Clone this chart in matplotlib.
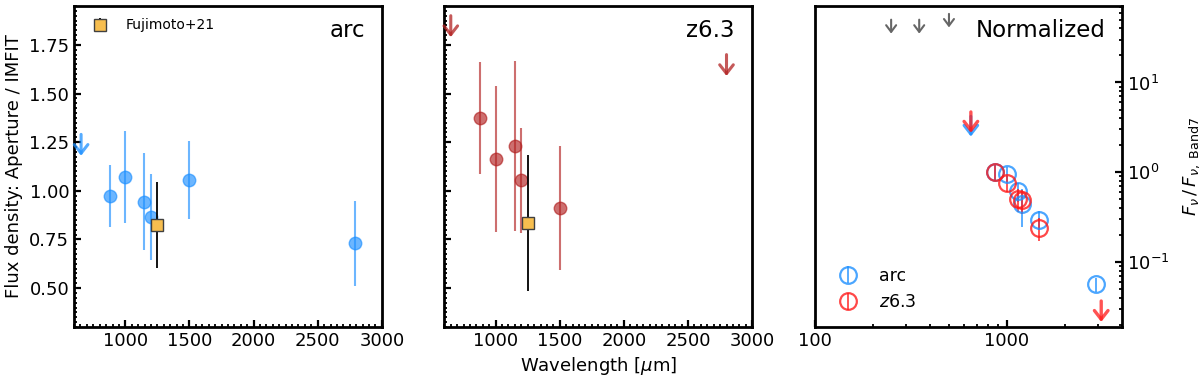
import matplotlib
matplotlib.use('Agg')
import matplotlib.pyplot as plt
from matplotlib.ticker import AutoMinorLocator, MultipleLocator, ScalarFormatter, NullFormatter, LogLocator

# ---------------- data ----------------
# Panel 1: arc  (aperture / IMFIT)
arc_wl = [880, 1000, 1145, 1200, 1500, 2790]
arc_ratio = [0.975, 1.07, 0.945, 0.865, 1.055, 0.73]
arc_err = [0.16, 0.235, 0.25, 0.22, 0.20, 0.22]
arc_lim_wl = [655]
arc_lim_top = [1.29]
arc_lim_bot = [1.18]

# Fujimoto+21
fuj_wl = [1250]
fuj_arc = [0.825]
fuj_arc_err = [0.22]
fuj_z63 = [0.835]
fuj_z63_err = [0.35]

# Panel 2: z6.3
z63_wl = [876, 1005, 1148, 1194, 1500]
z63_ratio = [1.374, 1.164, 1.23, 1.054, 0.912]
z63_err = [0.29, 0.377, 0.437, 0.27, 0.32]
z63_lim_wl = [650, 2800]
z63_lim_top = [1.90, 1.70]
z63_lim_bot = [1.79, 1.59]

# Panel 3: normalized SEDs
norm_arc_wl = [870, 1000, 1145, 1200, 1470, 2920]
norm_arc = [1.0, 0.96, 0.615, 0.446, 0.298, 0.0565]
norm_arc_err = [0.2, 0.18, 0.15, 0.2, 0.07, 0.01]
norm_arc_lim_wl = [650]
norm_arc_lim_top = [4.2]
norm_arc_lim_bot = [2.5]

norm_z63_wl = [866, 1000, 1145, 1200, 1466]
norm_z63 = [1.0, 0.76, 0.51, 0.49, 0.24]
norm_z63_err = [0.2, 0.15, 0.15, 0.15, 0.07]
norm_z63_lim_wl = [650, 3100]
norm_z63_lim_top = [4.7, 0.037]
norm_z63_lim_bot = [2.75, 0.0216]

spire_lim_wl = [250, 350, 500]
spire_lim_top = [50, 50, 58]
spire_lim_bot = [35, 35, 41]

# ---------------- style ----------------
FS = 13
plt.rcParams['font.family'] = ['DejaVu Sans']
plt.rcParams['axes.linewidth'] = 2.0

BLUE = '#1e90ff'
RED_P2 = '#b22222'
RED_P3 = '#ff1a1a'
ORANGE = '#f7be4f'

fig = plt.figure(figsize=(12, 3.79), dpi=100)
w = 0.2565
bottom, height = 0.1372, 0.847
ax1 = fig.add_axes([0.0617, bottom, w, height])
ax2 = fig.add_axes([0.3703, bottom, w, height], sharey=ax1)
ax3 = fig.add_axes([0.6789, bottom, w, height])


def arrows(ax, xs, tops, bots, color, lw=2.0, hw=0.35, hl=0.45, ms=14, alpha=1.0):
    for x, t, b in zip(xs, tops, bots):
        ax.annotate('', xy=(x, b), xytext=(x, t), xycoords='data',
                    arrowprops=dict(arrowstyle=f'->,head_length={hl},head_width={hw}',
                                    color=color, lw=lw, shrinkA=0, shrinkB=0,
                                    mutation_scale=ms, alpha=alpha))


def style_lin(ax):
    ax.set_xlim(600, 3000)
    ax.set_ylim(0.3, 1.95)
    ax.xaxis.set_major_locator(MultipleLocator(500))
    ax.xaxis.set_minor_locator(AutoMinorLocator(10))
    ax.yaxis.set_major_locator(MultipleLocator(0.25))
    ax.yaxis.set_minor_locator(AutoMinorLocator(10))
    ax.tick_params(which='both', direction='in', top=False, right=False, labelsize=FS)
    ax.tick_params(which='major', length=5, width=1.6)
    ax.tick_params(which='minor', length=2.5, width=1.3)


# ---------------- panel 1 ----------------
ax1.errorbar(arc_wl, arc_ratio, yerr=arc_err, fmt='o', color=BLUE, alpha=0.65,
             ms=9, elinewidth=1.5, capsize=0, zorder=2)
arrows(ax1, arc_lim_wl, arc_lim_top, arc_lim_bot, BLUE, lw=2.2, alpha=0.75)
ax1.errorbar(fuj_wl, fuj_arc, yerr=fuj_arc_err, fmt='s', mfc=ORANGE, mec='0.25',
             ecolor='k', ms=8, mew=1.0, elinewidth=1.3, capsize=0, zorder=3,
             label='Fujimoto+21')
style_lin(ax1)
ax1.set_ylabel('Flux density: Aperture / IMFIT', fontsize=FS)
ax1.legend(loc='upper left', frameon=False, fontsize=10)
ax1.text(0.945, 0.925, 'arc', transform=ax1.transAxes, ha='right', va='center', fontsize=16.5)

# ---------------- panel 2 ----------------
ax2.errorbar(z63_wl, z63_ratio, yerr=z63_err, fmt='o', color=RED_P2, alpha=0.65,
             ms=9, elinewidth=1.5, capsize=0, zorder=2)
arrows(ax2, z63_lim_wl, z63_lim_top, z63_lim_bot, RED_P2, lw=2.2, alpha=0.75)
ax2.errorbar(fuj_wl, fuj_z63, yerr=fuj_z63_err, fmt='s', mfc=ORANGE, mec='0.25',
             ecolor='k', ms=8, mew=1.0, elinewidth=1.3, capsize=0, zorder=3)
style_lin(ax2)
plt.setp(ax2.get_yticklabels(), visible=False)
ax2.set_xlabel(r'Wavelength [$\mu$m]', fontsize=FS)
ax2.text(0.943, 0.925, 'z6.3', transform=ax2.transAxes, ha='right', va='center', fontsize=16.5)

# ---------------- panel 3 ----------------
ax3.set_xscale('log')
ax3.set_yscale('log')
ax3.errorbar(norm_arc_wl, norm_arc, yerr=norm_arc_err, fmt='o', mfc='none', mec=BLUE,
             ecolor=BLUE, ms=12, mew=1.6, elinewidth=1.3, capsize=0, alpha=0.8, label='arc')
ax3.errorbar(norm_z63_wl, norm_z63, yerr=norm_z63_err, fmt='o', mfc='none', mec=RED_P3,
             ecolor=RED_P3, ms=12, mew=1.6, elinewidth=1.3, capsize=0, alpha=0.8,
             label=r'$z$6.3')
arrows(ax3, norm_arc_lim_wl, norm_arc_lim_top, norm_arc_lim_bot, BLUE, lw=2.2, alpha=0.8)
arrows(ax3, norm_z63_lim_wl, norm_z63_lim_top, norm_z63_lim_bot, RED_P3, lw=2.4, alpha=0.75)
arrows(ax3, spire_lim_wl, spire_lim_top, spire_lim_bot, '0.4', lw=1.5, hw=0.3, hl=0.4, ms=12)
ax3.set_xlim(100, 4000)
ax3.set_ylim(0.019, 71)
ax3.xaxis.set_major_locator(LogLocator(base=10, numticks=10))
ax3.xaxis.set_major_formatter(ScalarFormatter())
ax3.xaxis.set_minor_formatter(NullFormatter())
ax3.tick_params(which='both', direction='in', left=False, labelleft=False, right=True,
                labelright=True, top=False, labelsize=FS)
ax3.tick_params(which='major', length=5, width=1.6)
ax3.tick_params(which='minor', length=2.5, width=1.3)
ax3.yaxis.set_label_position('right')
ax3.set_ylabel(r'$F_\nu\,/\,F_{\nu,\ \rm Band7}$', fontsize=FS, labelpad=8)
ax3.legend(loc='lower left', frameon=False, fontsize=12.5)
ax3.text(0.944, 0.925, 'Normalized', transform=ax3.transAxes, ha='right', va='center',
         fontsize=16.5)

fig.savefig('out.png', dpi=100)
